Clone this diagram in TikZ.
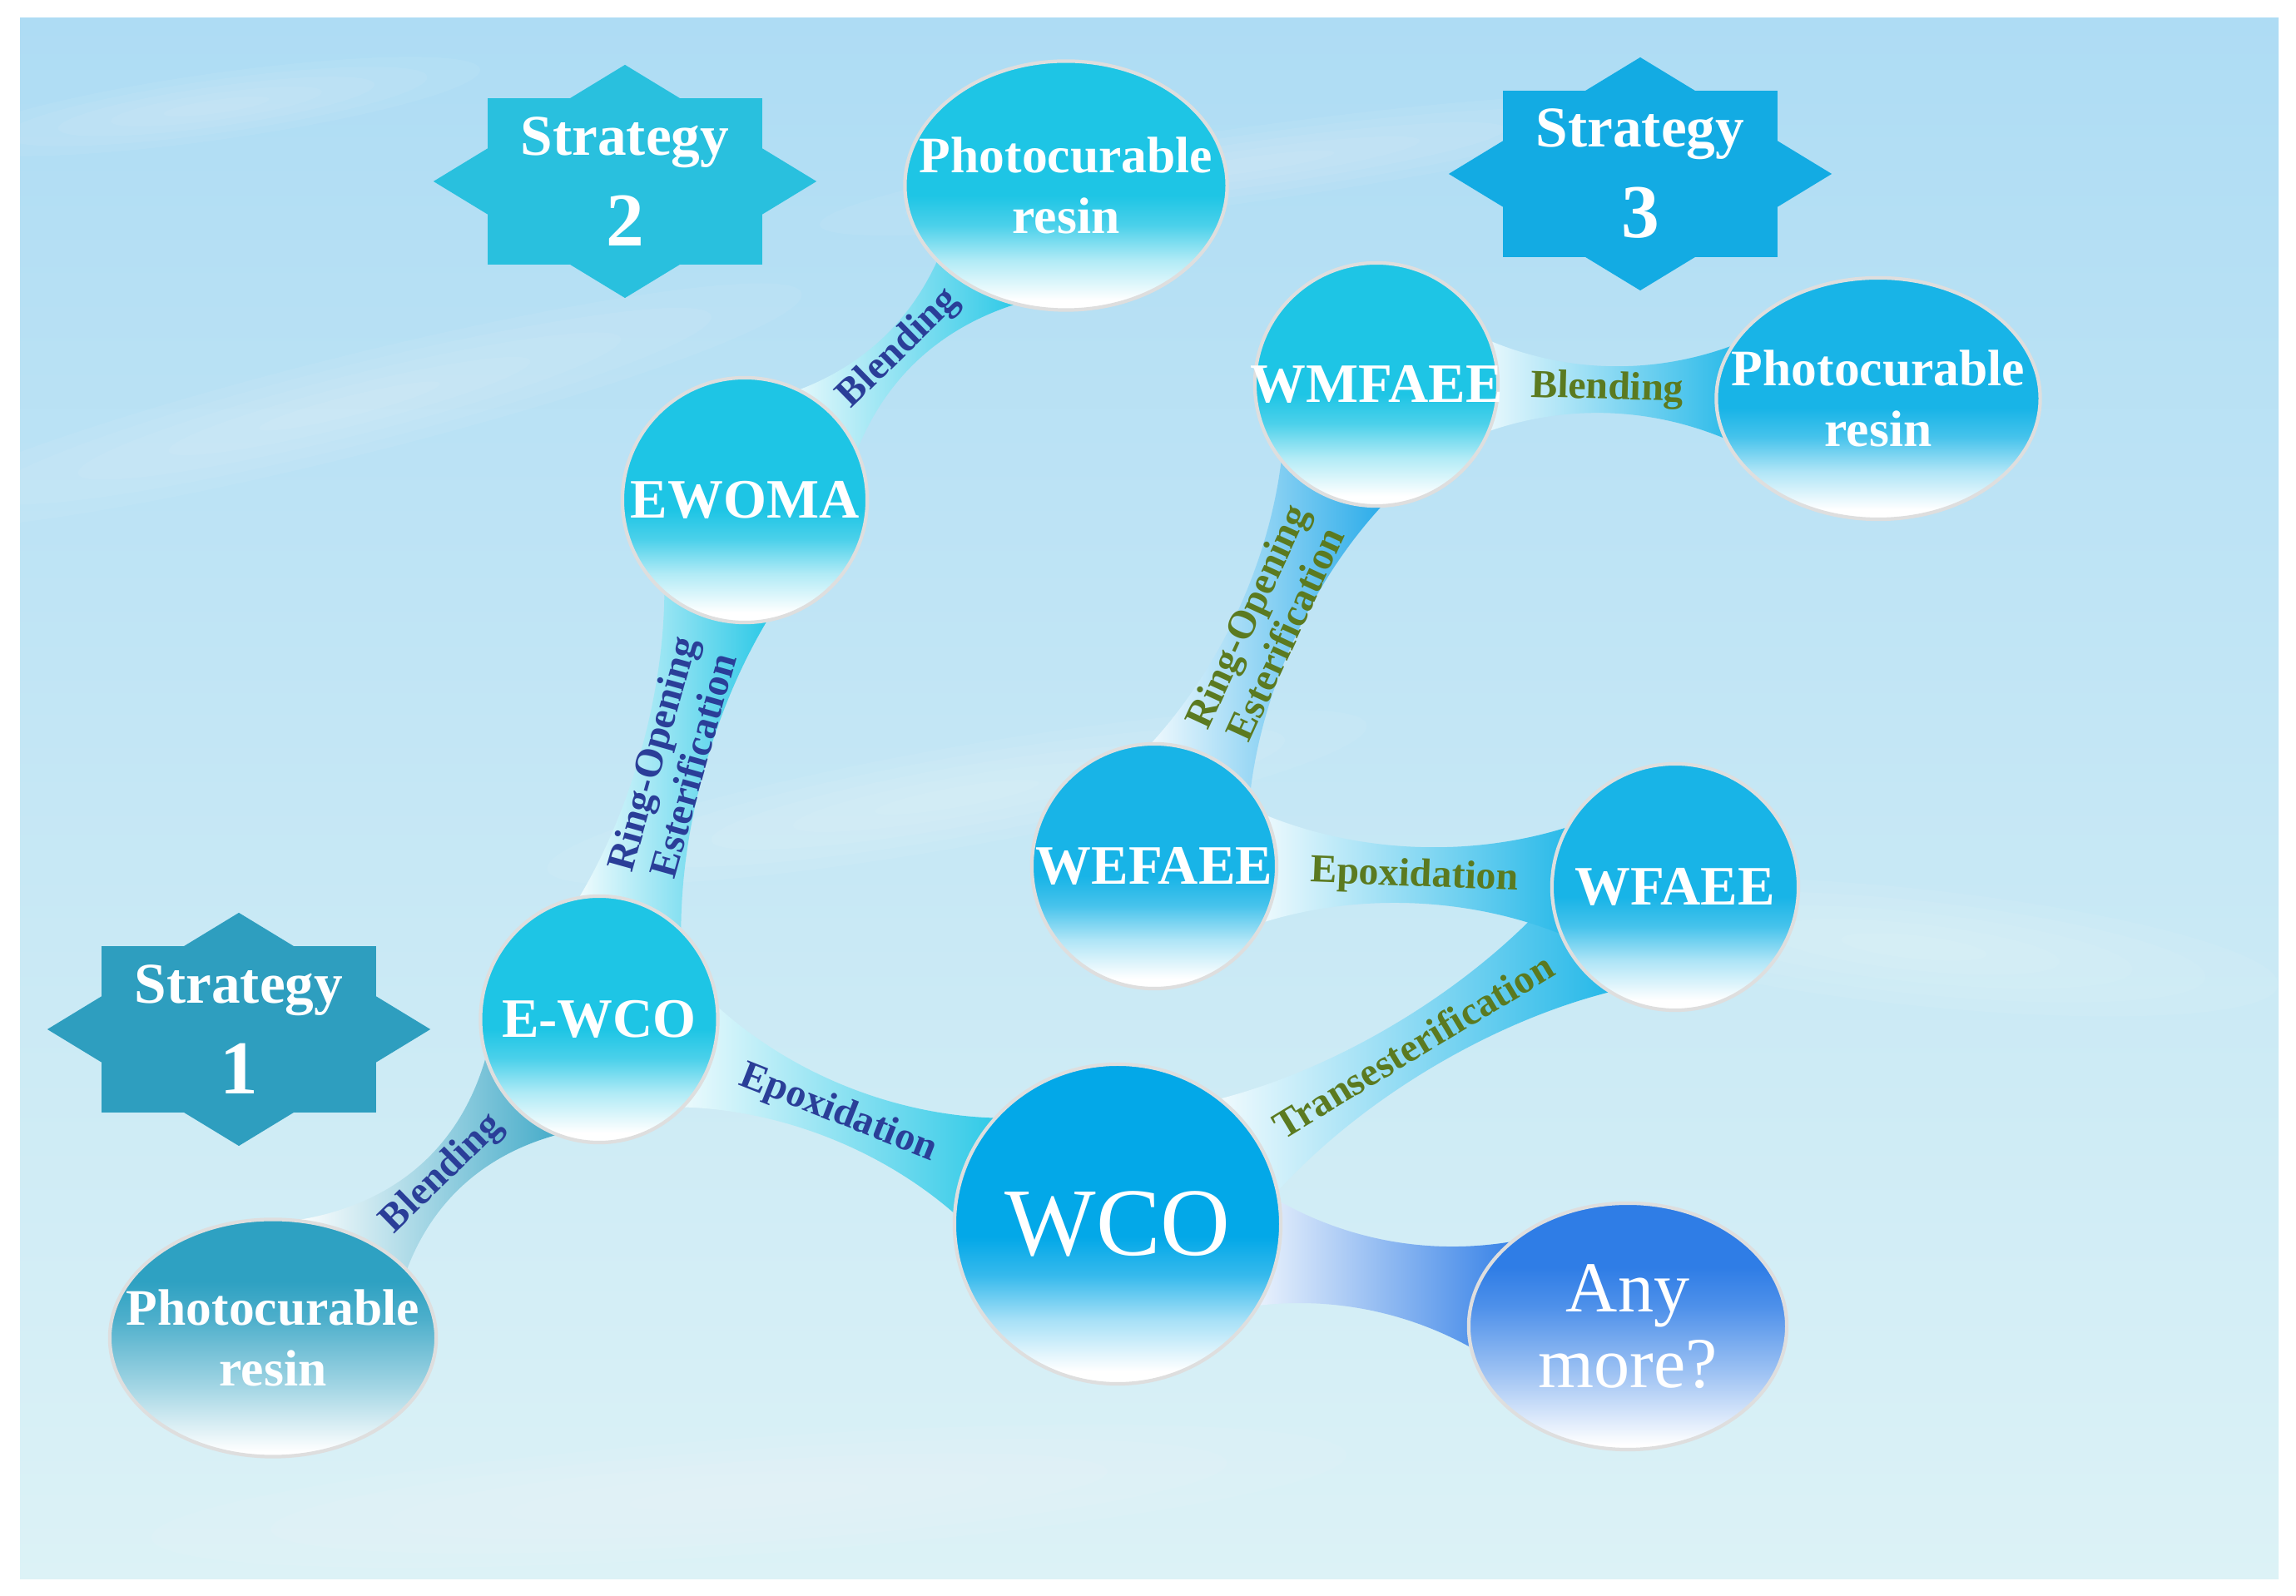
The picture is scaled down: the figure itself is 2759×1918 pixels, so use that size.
\documentclass[tikz,border=0pt]{standalone}
\usepackage{fontspec}
\setmainfont{Liberation Serif}
\usepackage{tikz}
\usetikzlibrary{positioning,calc,shapes.geometric}

\definecolor{bgtop}{HTML}{AEDCF4}
\definecolor{bgbot}{HTML}{DCF2F6}
\definecolor{bubcyan}{HTML}{1EC5E5}
\definecolor{bubsky}{HTML}{18B4E7}
\definecolor{bubwco}{HTML}{03A8E8}
\definecolor{bubteal}{HTML}{2EA1C2}
\definecolor{bubroyal}{HTML}{2F7DE6}
\definecolor{linkblue}{HTML}{1CA6E8}
\definecolor{starone}{HTML}{2E9EBF}
\definecolor{startwo}{HTML}{29C0DE}
\definecolor{starthree}{HTML}{13ABE3}
\definecolor{navytext}{HTML}{2A3E98}
\definecolor{greentext}{HTML}{5B7A20}

\pgfdeclarelayer{back}
\pgfdeclarelayer{bridges}
\pgfsetlayers{back,bridges,main}

% bubble fills: solid colour on top, white towards the bottom
\newcommand{\bubbleshading}[2]{%
  \pgfdeclareverticalshading{#1}{100bp}{color(0bp)=(white); color(27bp)=(white); color(35bp)=(#2!35!white); color(42bp)=(#2!80!white); color(48bp)=(#2); color(100bp)=(#2)}}
\newcommand{\softshading}[2]{%
  \pgfdeclareverticalshading{#1}{100bp}{color(0bp)=(white); color(26bp)=(white); color(40bp)=(#2!45!white); color(54bp)=(#2!85!white); color(62bp)=(#2); color(100bp)=(#2)}}
\bubbleshading{shcyan}{bubcyan}
\bubbleshading{shsky}{bubsky}
\bubbleshading{shwco}{bubwco}
\softshading{shteal}{bubteal}
\softshading{shroyal}{bubroyal}

% eight pointed star behind a strategy node
\newcommand{\starfill}[2]{%
  \begin{pgfonlayer}{bridges}
  \begin{scope}[shift={(#1)}, x=2.3cm, y=1.4cm]
    \fill[#2] (-0.717,-0.714) rectangle (0.717,0.714);
    \fill[#2] (1,0) -- (0,1) -- (-1,0) -- (0,-1) -- cycle;
  \end{scope}
  \end{pgfonlayer}}

% soft light streak in the sky: centre, angle, half length, half width
\newcommand{\streak}[4]{%
  \foreach \s in {1,0.8,0.6,0.4,0.2}
    \fill[white, opacity=0.06, rotate around={#2:#1}] #1 ellipse ({#3*\s} and {#4*\s});}

% tapered link, white at #1 and #3 at #2
% #4 half width at the ends, #5 waist, #6 label options, #7 label
\newcommand{\bridge}[7]{%
  \path let \p1=($(#2)-(#1)$) in \pgfextra{\pgfmathsetmacro\bang{atan2(\y1,\x1)}\xdef\bang{\bang}};
  \pgfmathsetmacro\bangb{\bang+180}
  \path (#1.\bang) coordinate (bra) (#2.\bangb) coordinate (brb);
  \path let \p2=($(brb)-(bra)$) in \pgfextra{\pgfmathsetmacro\blen{veclen(\x2,\y2)}\xdef\blen{\blen}};
  \pgfmathsetmacro\lang{\bang>90 ? \bang-180 : (\bang<-90 ? \bang+180 : \bang)}
  \begin{pgfonlayer}{bridges}
    \begin{scope}[shift={(bra)}, rotate=\bang, x=1pt, y=1pt]
      \shade[left color=white, right color=#3]
        (-14,#4) .. controls ({0.25*\blen},#5) and ({0.75*\blen},#5) .. ({\blen+14},#4)
        -- ({\blen+14},-#4) .. controls ({0.75*\blen},-#5) and ({0.25*\blen},-#5) .. (-14,-#4) -- cycle;
    \end{scope}
  \end{pgfonlayer}
  \node[rotate=\lang, #6] at ($(bra)!0.5!(brb)$) {#7};
}

\begin{document}
\begin{tikzpicture}[x=0.01cm, y=0.01cm,
  bubble/.style={ellipse, inner sep=0pt, draw=black!13, line width=1.2pt, shade, shading=#1},
  btext/.style={text=white, align=center, font=\fontsize{19}{22}\selectfont\bfseries},
  rtext/.style={text=white, align=center, font=\fontsize{17.5}{21}\selectfont\bfseries},
  stext/.style={text=white, align=center, font=\fontsize{19.7}{24}\selectfont\bfseries},
  linklbl/.style={align=center, inner sep=0pt, font=\fontsize{13.6}{14.5}\selectfont\bfseries},
  navylbl/.style={linklbl, text=navytext},
  greenlbl/.style={linklbl, text=greentext}]
\useasboundingbox (0,0) rectangle (2759,1918);

% sky
\begin{pgfonlayer}{back}
  \fill[white] (0,0) rectangle (2759,1918);
  \shade[top color=bgtop, bottom color=bgbot] (24,20) rectangle (2738,1896);
  \streak{(420,1430)}{14}{560}{60}
  \streak{(260,1790)}{8}{320}{40}
  \streak{(1500,1720)}{8}{520}{45}
  \streak{(2300,780)}{-6}{440}{70}
  \streak{(900,120)}{4}{720}{70}
  \streak{(1150,960)}{10}{500}{60}
\end{pgfonlayer}

% strategies
\node[stext] (star1) at (287,681) {Strategy\\[7pt]{\fontsize{26}{26}\selectfont 1}};
\node[stext] (star2) at (751,1700) {Strategy\\[7pt]{\fontsize{26}{26}\selectfont 2}};
\node[stext] (star3) at (1971,1709) {Strategy\\[7pt]{\fontsize{26}{26}\selectfont 3}};
\starfill{star1}{starone}
\starfill{star2}{startwo}
\starfill{star3}{starthree}

% bubbles
\node[bubble=shwco, minimum width=3.92cm, minimum height=3.84cm,
  label={[text=white, font=\fontsize{33}{36}\selectfont]center:WCO}] (wco) at (1343,447) {};
\node[bubble=shroyal, minimum width=3.82cm, minimum height=2.96cm,
  label={[text=white, align=center, font=\fontsize{24.5}{26}\selectfont]center:{Any\\more?}}] (anymore) at (1956,324) {};
\node[bubble=shcyan, minimum width=2.85cm, minimum height=2.96cm, label={[btext]center:E-WCO}] (ewco) at (720,693) {};
\node[bubble=shteal, minimum width=3.92cm, minimum height=2.85cm,
  label={[rtext]center:{Photocurable\\resin}}] (resinB) at (328,310) {};
\node[bubble=shcyan, minimum width=2.94cm, minimum height=2.94cm, label={[btext]center:EWOMA}] (ewoma) at (895,1317) {};
\node[bubble=shcyan, minimum width=3.87cm, minimum height=2.99cm,
  label={[rtext]center:{Photocurable\\resin}}] (resinA) at (1281,1695) {};
\node[bubble=shsky, minimum width=2.96cm, minimum height=2.96cm, label={[btext]center:WFAEE}] (wfaee) at (2013,852) {};
\node[bubble=shsky, minimum width=2.94cm, minimum height=2.94cm, label={[btext]center:WEFAEE}] (wefaee) at (1387,877) {};
\node[bubble=shcyan, minimum width=2.92cm, minimum height=2.92cm, label={[btext]center:WMFAEE}] (wmfaee) at (1654,1456) {};
\node[bubble=shsky, minimum width=3.89cm, minimum height=2.90cm,
  label={[rtext]center:{Photocurable\\resin}}] (resinC) at (2257,1439) {};

% links
\bridge{ewco}{resinB}{bubteal}{24}{2}{navylbl, name=blendOne}{Blending}
\bridge{wco}{ewco}{bubcyan}{22}{5}{navylbl, name=epoxOne}{Epoxidation}
\bridge{ewco}{ewoma}{bubcyan}{21}{8}{navylbl, name=ringTwo}{Ring-Opening\\Esterification}
\bridge{ewoma}{resinA}{bubcyan}{20}{2.5}{navylbl, name=blendTwo}{Blending}
\bridge{wco}{wfaee}{bubsky}{22}{5.5}{greenlbl, name=transThree}{Transesterification}
\bridge{wfaee}{wefaee}{bubsky}{22}{5.5}{greenlbl, name=epoxThree}{Epoxidation}
\bridge{wefaee}{wmfaee}{linkblue}{22}{7}{greenlbl, name=ringThree}{Ring-Opening\\Esterification}
\bridge{wmfaee}{resinC}{bubsky}{20}{4}{greenlbl, name=blendThree}{Blending}
\bridge{wco}{anymore}{bubroyal}{22}{9}{name=moreLink}{}
\end{tikzpicture}
\end{document}
